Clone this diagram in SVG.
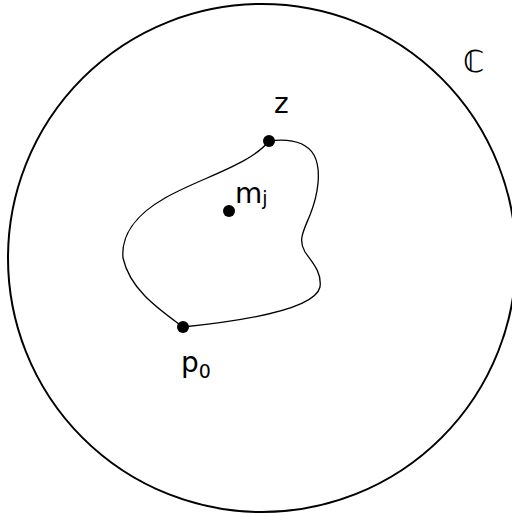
<svg xmlns="http://www.w3.org/2000/svg" width="512" height="516" viewBox="0 0 512 516">
<style>
.t{font-family:"DejaVu Sans",sans-serif;fill:#000}
.pt{fill:#000}
</style>
<rect width="512" height="516" fill="#fff"/>
<g id="plane">
<circle cx="262" cy="258" r="254" fill="none" stroke="#000" stroke-width="2"/>
<text class="t" x="463" y="72" font-size="30">ℂ</text>
</g>
<g id="connectors">
<path d="M269,141 C285,139 305,140 314,155 C322,170 318,195 310,215 C303,232 298,240 305,252 C312,262 322,272 320,287 C316,305 270,318 183,327 C160,310 130,290 123,258 C121,236 135,215 165,198 C200,178 250,165 269,141 Z" fill="none" stroke="#000" stroke-width="1.3"/>
</g>
<g id="z">
<circle class="pt" cx="269" cy="141" r="6"/>
<text class="t" x="274" y="113" font-size="28">z</text>
</g>
<g id="mj">
<circle class="pt" cx="229" cy="211" r="6"/>
<text class="t" x="235" y="203" font-size="28">m<tspan font-size="19" dy="2">j</tspan></text>
</g>
<g id="p0">
<circle class="pt" cx="183" cy="327" r="6"/>
<text class="t" x="181" y="372" font-size="28">p<tspan font-size="19" dy="6">0</tspan></text>
</g>
</svg>
